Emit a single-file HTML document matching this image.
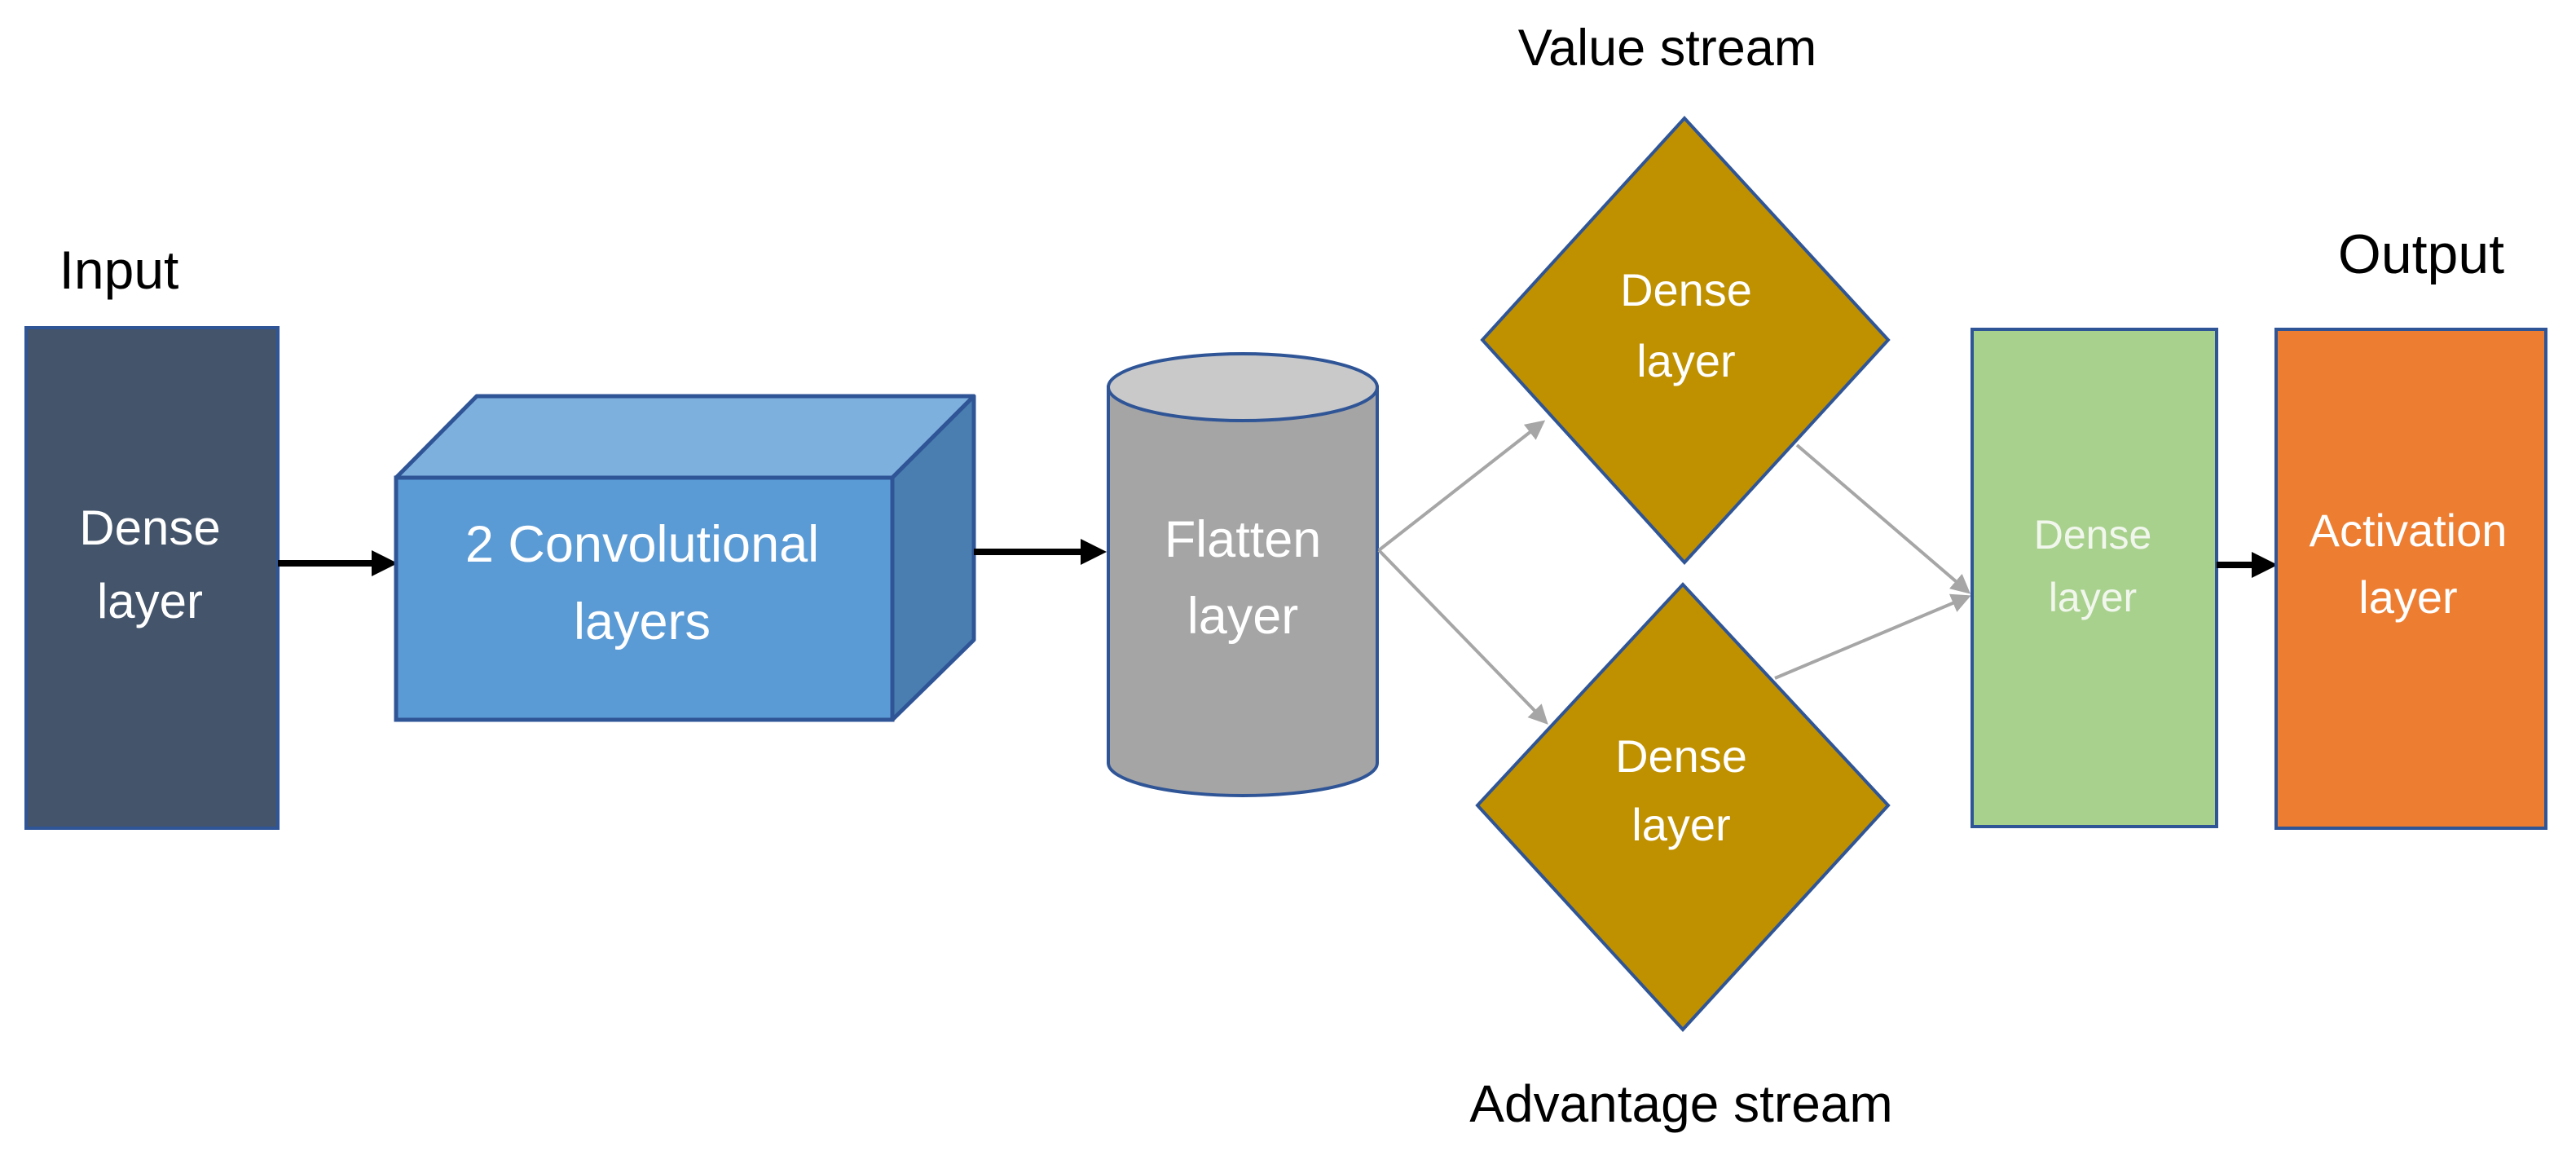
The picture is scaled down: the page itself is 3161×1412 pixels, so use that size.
<!DOCTYPE html>
<html><head><meta charset="utf-8"><style>
html,body{margin:0;padding:0;background:#fff;}
svg{display:block;}
text{font-family:"Liberation Sans",sans-serif;}
</style></head><body>
<svg width="3161" height="1412" viewBox="0 0 3161 1412" xmlns="http://www.w3.org/2000/svg">
<defs>
<marker id="ab" markerWidth="4" markerHeight="4" refX="3" refY="2" orient="auto" markerUnits="strokeWidth"><path d="M0,0 L4,2 L0,4 Z" fill="#000"/></marker>
<marker id="ag" markerWidth="6" markerHeight="6" refX="5" refY="3" orient="auto" markerUnits="strokeWidth"><path d="M0,0 L6,3 L0,6 Z" fill="#a6a6a6"/></marker>
</defs>
<!-- Labels -->
<text x="146" y="354" font-size="66" text-anchor="middle" fill="#000">Input</text>
<text x="2046" y="80" font-size="63" text-anchor="middle" fill="#000">Value stream</text>
<text x="2063" y="1376" font-size="64" text-anchor="middle" fill="#000">Advantage stream</text>
<text x="2971" y="335" font-size="68" text-anchor="middle" fill="#000">Output</text>

<!-- Input dense -->
<rect x="32" y="402" width="309" height="614" fill="#44546a" stroke="#2f5597" stroke-width="4"/>
<text x="184" y="668" font-size="60" text-anchor="middle" fill="#fff">Dense</text>
<text x="184" y="758" font-size="60" text-anchor="middle" fill="#fff">layer</text>

<!-- arrow 1 -->
<line x1="341" y1="691" x2="480" y2="691" stroke="#000" stroke-width="8" marker-end="url(#ab)"/>

<!-- Cube -->
<polygon points="486,586 585,486 1195,486 1095,586" fill="#7eb0de" stroke="#2f5597" stroke-width="5" stroke-linejoin="round"/>
<polygon points="1095,586 1195,486 1195,785 1095,883" fill="#4a7eb0" stroke="#2f5597" stroke-width="5" stroke-linejoin="round"/>
<rect x="486" y="586" width="609" height="297" fill="#5b9bd5" stroke="#2f5597" stroke-width="5"/>
<text x="788" y="689" font-size="63" text-anchor="middle" fill="#fff">2 Convolutional</text>
<text x="788" y="784" font-size="63" text-anchor="middle" fill="#fff">layers</text>

<!-- arrow 2 -->
<line x1="1195" y1="677" x2="1350" y2="677" stroke="#000" stroke-width="8" marker-end="url(#ab)"/>

<!-- Cylinder -->
<path d="M1360,475 L1360,936 A165,40 0 0 0 1690,936 L1690,475 Z" fill="#a5a5a5" stroke="#2f5597" stroke-width="4"/>
<ellipse cx="1525" cy="475" rx="165" ry="41" fill="#c9c9c9" stroke="#2f5597" stroke-width="4"/>
<text x="1525" y="683" font-size="63" text-anchor="middle" fill="#fff">Flatten</text>
<text x="1525" y="777" font-size="63" text-anchor="middle" fill="#fff">layer</text>

<!-- gray arrows -->
<line x1="1692" y1="675" x2="1893" y2="518" stroke="#a6a6a6" stroke-width="4" marker-end="url(#ag)"/>
<line x1="1692" y1="675" x2="1897" y2="886" stroke="#a6a6a6" stroke-width="4" marker-end="url(#ag)"/>
<line x1="2205" y1="546" x2="2415" y2="726" stroke="#a6a6a6" stroke-width="4" marker-end="url(#ag)"/>
<line x1="2178" y1="832" x2="2415" y2="732" stroke="#a6a6a6" stroke-width="4" marker-end="url(#ag)"/>

<!-- Diamonds -->
<polygon points="2067,145 2317,417 2067,690 1819,417" fill="#bf9000" stroke="#2f5597" stroke-width="4"/>
<text x="2069" y="375" font-size="56" text-anchor="middle" fill="#fff">Dense</text>
<text x="2069" y="462" font-size="56" text-anchor="middle" fill="#fff">layer</text>
<polygon points="2065,717 2317,988 2065,1263 1813,988" fill="#bf9000" stroke="#2f5597" stroke-width="4"/>
<text x="2063" y="947" font-size="56" text-anchor="middle" fill="#fff">Dense</text>
<text x="2063" y="1031" font-size="56" text-anchor="middle" fill="#fff">layer</text>

<!-- green -->
<rect x="2420" y="404" width="300" height="610" fill="#a9d18e" stroke="#2f5597" stroke-width="4"/>
<text x="2568" y="673" font-size="50" text-anchor="middle" fill="#f2f7ee">Dense</text>
<text x="2568" y="750" font-size="50" text-anchor="middle" fill="#f2f7ee">layer</text>

<!-- arrow 3 -->
<line x1="2720" y1="693" x2="2787" y2="693" stroke="#000" stroke-width="8" marker-end="url(#ab)"/>

<!-- orange -->
<rect x="2793" y="404" width="331" height="612" fill="#ed7d31" stroke="#2f5597" stroke-width="4"/>
<text x="2955" y="670" font-size="56" text-anchor="middle" fill="#fff">Activation</text>
<text x="2955" y="752" font-size="56" text-anchor="middle" fill="#fff">layer</text>
</svg>
</body></html>
